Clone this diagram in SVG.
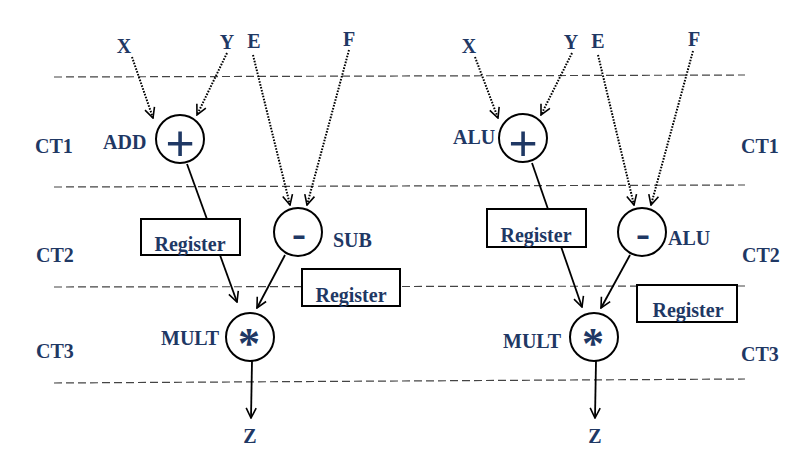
<svg xmlns="http://www.w3.org/2000/svg" width="797" height="460" viewBox="0 0 797 460">
<defs>
<marker id="ah" markerWidth="12" markerHeight="12" refX="11" refY="6" orient="auto" markerUnits="userSpaceOnUse">
<path d="M1,1 L11,6 L1,11" fill="none" stroke="#000" stroke-width="1.6"/>
</marker>
<style>
.t{font-family:"Liberation Serif","Times New Roman",serif;font-weight:bold;font-size:20px;fill:#1f3864}
.plus{font-family:"Liberation Sans",Arial,sans-serif;font-size:50px;fill:#1f3864;text-anchor:middle}
.minus{font-family:"Liberation Serif","Times New Roman",serif;font-weight:bold;font-size:42px;fill:#1f3864;text-anchor:middle}
.star{font-family:"Liberation Serif","Times New Roman",serif;font-weight:bold;font-size:44px;fill:#1f3864;text-anchor:middle}
.c{fill:#fff;stroke:#000;stroke-width:2}
.box{fill:#fff;stroke:#000;stroke-width:2}
.dash{stroke:#444;stroke-width:1.2;stroke-dasharray:8 4;fill:none}
.dot{stroke:#000;stroke-width:2;stroke-dasharray:1.6 1.4;fill:none}
.sol{stroke:#000;stroke-width:1.8;fill:none}
</style>
</defs>
<rect width="797" height="460" fill="#fff"/>
<g id="stage-lines">
<line class="dash" x1="54" y1="77" x2="745" y2="75"/>
<line class="dash" x1="54" y1="187" x2="745" y2="185"/>
<line class="dash" x1="54" y1="287" x2="745" y2="286"/>
<line class="dash" x1="54" y1="383" x2="745" y2="379"/>
</g>
<g id="stage-labels">
<text class="t" x="35" y="153">CT1</text>
<text class="t" x="36" y="262">CT2</text>
<text class="t" x="36" y="358">CT3</text>
<text class="t" x="741" y="153">CT1</text>
<text class="t" x="742" y="262">CT2</text>
<text class="t" x="741" y="361">CT3</text>
</g>
<g id="connectors">
<line class="dot" x1="132" y1="57" x2="153" y2="118" marker-end="url(#ah)"/>
<line class="dot" x1="227" y1="53" x2="197" y2="115" marker-end="url(#ah)"/>
<line class="dot" x1="253" y1="55" x2="290" y2="205" marker-end="url(#ah)"/>
<line class="dot" x1="349" y1="50" x2="307" y2="205" marker-end="url(#ah)"/>
<line class="sol" x1="187" y1="164" x2="237" y2="302" marker-end="url(#ah)"/>
<line class="sol" x1="285" y1="255" x2="257" y2="308" marker-end="url(#ah)"/>
<line class="sol" x1="252" y1="361" x2="251" y2="418" marker-end="url(#ah)"/>
<line class="dot" x1="475" y1="57" x2="498" y2="118" marker-end="url(#ah)"/>
<line class="dot" x1="572" y1="53" x2="541" y2="115" marker-end="url(#ah)"/>
<line class="dot" x1="598" y1="55" x2="634" y2="205" marker-end="url(#ah)"/>
<line class="dot" x1="693" y1="51" x2="651" y2="205" marker-end="url(#ah)"/>
<line class="sol" x1="532" y1="163" x2="582" y2="307" marker-end="url(#ah)"/>
<line class="sol" x1="630" y1="255" x2="601" y2="308" marker-end="url(#ah)"/>
<line class="sol" x1="596" y1="361" x2="595" y2="418" marker-end="url(#ah)"/>
</g>
<g id="inputs-left">
<text class="t" x="124" y="53" text-anchor="middle">X</text>
<text class="t" x="227" y="49" text-anchor="middle">Y</text>
<text class="t" x="254" y="48" text-anchor="middle">E</text>
<text class="t" x="349" y="46" text-anchor="middle">F</text>
</g>
<g id="add">
<circle class="c" cx="180" cy="139" r="24"/>
<text class="plus" x="180" y="160">+</text>
<text class="t" x="103" y="149">ADD</text>
</g>
<g id="sub">
<circle class="c" cx="298" cy="232" r="24"/>
<text class="minus" x="299" y="247">-</text>
<text class="t" x="333" y="247">SUB</text>
</g>
<g id="reg-l1">
<rect class="box" x="141" y="219" width="99" height="36"/>
<text class="t" x="190" y="251" text-anchor="middle">Register</text>
</g>
<g id="reg-l2">
<rect class="box" x="302" y="269" width="98" height="37"/>
<text class="t" x="351" y="302" text-anchor="middle">Register</text>
</g>
<g id="mult-l">
<circle class="c" cx="250" cy="337" r="24"/>
<text class="star" x="249" y="358">*</text>
<text class="t" x="161" y="345">MULT</text>
</g>
<g id="z-l">
<text class="t" x="250" y="443" text-anchor="middle">Z</text>
</g>
<g id="inputs-right">
<text class="t" x="469" y="53" text-anchor="middle">X</text>
<text class="t" x="571" y="49" text-anchor="middle">Y</text>
<text class="t" x="598" y="48" text-anchor="middle">E</text>
<text class="t" x="694" y="46" text-anchor="middle">F</text>
</g>
<g id="alu-add">
<circle class="c" cx="523" cy="138" r="24"/>
<text class="plus" x="523" y="160">+</text>
<text class="t" x="453" y="144">ALU</text>
</g>
<g id="alu-sub">
<circle class="c" cx="642" cy="232" r="24"/>
<text class="minus" x="643" y="247">-</text>
<text class="t" x="668" y="245">ALU</text>
</g>
<g id="reg-r1">
<rect class="box" x="487" y="209" width="99" height="38"/>
<text class="t" x="536" y="242" text-anchor="middle">Register</text>
</g>
<g id="reg-r2">
<rect class="box" x="637" y="285" width="100" height="37"/>
<text class="t" x="688" y="317" text-anchor="middle">Register</text>
</g>
<g id="mult-r">
<circle class="c" cx="594" cy="337" r="24"/>
<text class="star" x="593" y="358">*</text>
<text class="t" x="503" y="348">MULT</text>
</g>
<g id="z-r">
<text class="t" x="595" y="443" text-anchor="middle">Z</text>
</g>
</svg>
